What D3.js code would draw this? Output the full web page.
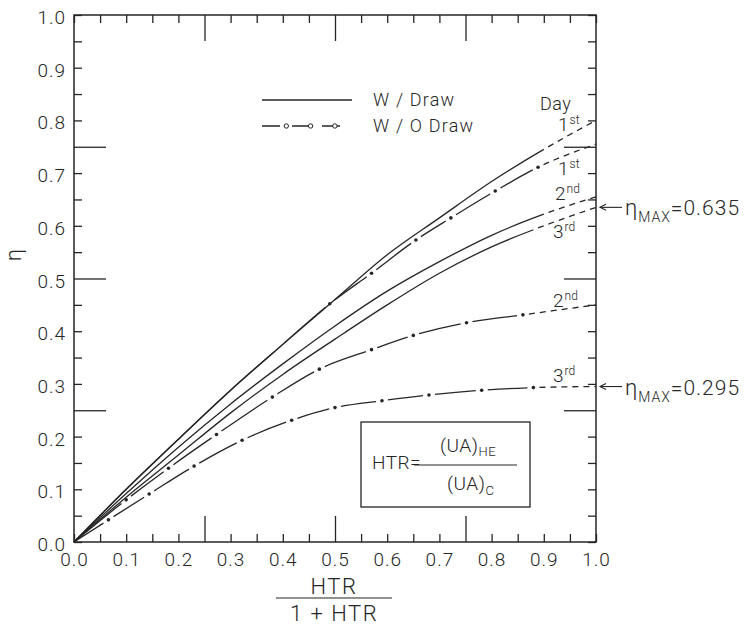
<!DOCTYPE html>
<html>
<head>
<meta charset="utf-8">
<script src="https://cdn.jsdelivr.net/npm/d3@7"></script>
<style>
  body { margin: 0; background: #fff; }
  text { font-family: Roboto, "Open Sans", Lato, sans-serif; font-weight: 300; fill: #262626; }
</style>
</head>
<body>
<svg id="chart" width="746" height="629"></svg>
<script>
// ---- data -------------------------------------------------------------
// HTR/(1+HTR) grid for the "with draw" curves
const htrGrid   = [0, 0.1, 0.2, 0.3, 0.4, 0.5, 0.6, 0.7, 0.8, 0.9, 1.0];
const drawDay1  = [0, 0.100, 0.195, 0.288, 0.375, 0.460, 0.545, 0.615, 0.684, 0.745, 0.800];
const drawDay2  = [0, 0.092, 0.180, 0.262, 0.338, 0.410, 0.476, 0.532, 0.582, 0.622, 0.655];
const drawDay3  = [0, 0.085, 0.165, 0.245, 0.318, 0.385, 0.450, 0.510, 0.560, 0.600, 0.635];
// abscissa beyond which each "with draw" curve is extrapolated (dashed)
const drawExtrapFrom = [0.90, 0.90, 0.88];

// "without draw" curves: points along each curve plus end value at 1.0
const noDrawDay1X = [0.10, 0.20, 0.30, 0.40, 0.49, 0.57, 0.655, 0.722, 0.807, 0.889];
const noDrawDay1  = [0.100, 0.195, 0.288, 0.375, 0.452, 0.510, 0.573, 0.615, 0.666, 0.711];
const noDrawDay2X = [0.10, 0.181, 0.273, 0.380, 0.47, 0.57, 0.65, 0.752, 0.860];
const noDrawDay2  = [0.080, 0.140, 0.204, 0.275, 0.328, 0.365, 0.392, 0.416, 0.431];
const noDrawDay3X = [0.066, 0.144, 0.230, 0.322, 0.417, 0.50, 0.59, 0.68, 0.781, 0.880];
const noDrawDay3  = [0.042, 0.091, 0.144, 0.193, 0.231, 0.255, 0.268, 0.279, 0.288, 0.293];
const noDrawEnd   = [0.755, 0.450, 0.295];
// first abscissa carrying a dot (day 1 runs together with the draw curve below it)
const noDrawDotFrom = [0.49, 0, 0];

const etaMax = [0.635, 0.295];

const tickLabels = [0, 0.1, 0.2, 0.3, 0.4, 0.5, 0.6, 0.7, 0.8, 0.9, 1.0];
const minorTicks = d3.range(0, 21).map(i => i * 0.05).filter(v => ![0.25, 0.5, 0.75].includes(+v.toFixed(2)));
const majorTicks = [0.25, 0.5, 0.75];

(function draw() {
  // ---- layout ---------------------------------------------------------
  const svg = d3.select("#chart");
  const pL = 74, pR = 596, pT = 15, pB = 542;
  const x = d3.scaleLinear().domain([0, 1]).range([pL, pR]);
  const y = d3.scaleLinear().domain([0, 1]).range([pB, pT]);
  const ink = "#262626";
  const fmt = d3.format(".1f");

  // frame
  svg.append("rect").attr("x", pL).attr("y", pT)
    .attr("width", pR - pL).attr("height", pB - pT)
    .attr("fill", "none").attr("stroke", ink).attr("stroke-width", 1.5);

  function styleAxis(g) {
    g.select(".domain").remove();
    g.selectAll("line").attr("stroke", ink).attr("stroke-width", 1.3);
  }
  // inward ticks on all four sides
  const tickSets = [[minorTicks, 8, 8], [majorTicks, 26, 32]];
  tickSets.forEach(([vals, lenX, lenY]) => {
    svg.append("g").attr("transform", `translate(0,${pB})`)
      .call(d3.axisBottom(x).tickValues(vals).tickSize(-lenX).tickFormat("")).call(styleAxis);
    svg.append("g").attr("transform", `translate(0,${pT})`)
      .call(d3.axisTop(x).tickValues(vals).tickSize(-lenX).tickFormat("")).call(styleAxis);
    svg.append("g").attr("transform", `translate(${pL},0)`)
      .call(d3.axisLeft(y).tickValues(vals).tickSize(-lenY).tickFormat("")).call(styleAxis);
    svg.append("g").attr("transform", `translate(${pR},0)`)
      .call(d3.axisRight(y).tickValues(vals).tickSize(-lenY).tickFormat("")).call(styleAxis);
  });

  // tick labels
  const xLab = svg.append("g").attr("transform", `translate(0,${pB})`)
    .call(d3.axisBottom(x).tickValues(tickLabels).tickSize(0).tickPadding(11).tickFormat(fmt));
  xLab.select(".domain").remove();
  xLab.selectAll("text").attr("font-size", 19).attr("letter-spacing", 1)
    .style("font-family", "Roboto, sans-serif").attr("fill", ink);

  const yLab = svg.append("g").attr("transform", `translate(${pL},0)`)
    .call(d3.axisLeft(y).tickValues(tickLabels).tickSize(0).tickPadding(8).tickFormat(fmt));
  yLab.select(".domain").remove();
  yLab.selectAll("text").attr("font-size", 19).attr("letter-spacing", 1)
    .attr("dy", "0.45em").style("font-family", "Roboto, sans-serif").attr("fill", ink);

  // axis titles
  svg.append("text").attr("transform", "translate(21,255) rotate(-90)")
    .attr("text-anchor", "middle").attr("font-size", 22).text("η");

  svg.append("text").attr("x", 334).attr("y", 594).attr("text-anchor", "middle")
    .attr("font-size", 22).attr("letter-spacing", 1.5).text("HTR");
  svg.append("line").attr("x1", 276).attr("x2", 392).attr("y1", 598).attr("y2", 598)
    .attr("stroke", ink).attr("stroke-width", 1.2);
  svg.append("text").attr("x", 334).attr("y", 621).attr("text-anchor", "middle")
    .attr("font-size", 22).attr("letter-spacing", 1.5).text("1 + HTR");

  // ---- curves ---------------------------------------------------------
  const line = d3.line().x(d => x(d[0])).y(d => y(d[1])).curve(d3.curveMonotoneX);

  // arc length along a path at which it reaches a given screen x
  function lengthAtX(node, px) {
    let lo = 0, hi = node.getTotalLength();
    for (let i = 0; i < 40; i++) {
      const mid = (lo + hi) / 2;
      if (node.getPointAtLength(mid).x < px) lo = mid; else hi = mid;
    }
    return (lo + hi) / 2;
  }
  function extrapDashes(arr, pos, total) {
    while (pos < total) { arr.push(6, 5); pos += 11; }
    return arr;
  }

  // with draw: solid, dashed extrapolation
  [drawDay1, drawDay2, drawDay3].forEach((vals, i) => {
    const pts = htrGrid.map((h, k) => [h, vals[k]]);
    const p = svg.append("path").attr("d", line(pts))
      .attr("fill", "none").attr("stroke", ink).attr("stroke-width", 1.3);
    const node = p.node();
    const total = node.getTotalLength();
    const split = lengthAtX(node, x(drawExtrapFrom[i]));
    p.attr("stroke-dasharray", extrapDashes([split, 5], split + 5, total).join(" "));
  });

  // without draw: long dash / dot, dashed extrapolation
  [[noDrawDay1X, noDrawDay1], [noDrawDay2X, noDrawDay2], [noDrawDay3X, noDrawDay3]].forEach(([xs, vals], i) => {
    const pts = [[0, 0], ...xs.map((h, k) => [h, vals[k]]), [1, noDrawEnd[i]]];
    const dots = pts.slice(1, -1).filter(d => d[0] >= noDrawDotFrom[i]);
    const p = svg.append("path").attr("d", line(pts))
      .attr("fill", "none").attr("stroke", ink).attr("stroke-width", 1.3);
    const node = p.node();
    const total = node.getTotalLength();
    const g = 6;
    const arr = [];
    let pos = 0;
    dots.forEach(d => {
      const L = lengthAtX(node, x(d[0]));
      arr.push(Math.max(L - g - pos, 1), 2 * g);
      pos = L + g;
    });
    p.attr("stroke-dasharray", extrapDashes(arr, pos, total).join(" "));
    svg.append("g").selectAll("circle").data(dots).join("circle")
      .attr("cx", d => x(d[0])).attr("cy", d => y(d[1])).attr("r", 1.8).attr("fill", ink);
  });

  // ---- legend ---------------------------------------------------------
  svg.append("line").attr("x1", 262).attr("x2", 352).attr("y1", 100).attr("y2", 100)
    .attr("stroke", ink).attr("stroke-width", 1.3);
  svg.append("text").attr("x", 373).attr("y", 106).attr("font-size", 18).attr("letter-spacing", 1.2).text("W / Draw");
  svg.append("line").attr("x1", 262).attr("x2", 352).attr("y1", 126).attr("y2", 126)
    .attr("stroke", ink).attr("stroke-width", 1.3).attr("stroke-dasharray", "18 6 0 6");
  [0.27, 0.54, 0.81].forEach(f => {
    svg.append("circle").attr("cx", 262 + 90 * f).attr("cy", 126).attr("r", 2.2)
      .attr("fill", "#fff").attr("stroke", ink).attr("stroke-width", 1);
  });
  svg.append("text").attr("x", 373).attr("y", 132).attr("font-size", 18).attr("letter-spacing", 1.2).text("W / O Draw");

  // ---- day labels -----------------------------------------------------
  svg.append("text").attr("x", 540).attr("y", 110).attr("font-size", 18).attr("letter-spacing", 0.5).text("Day");
  const dayLabels = [
    ["1", "st", 558, 131], ["1", "st", 558, 175], ["2", "nd", 555, 200],
    ["3", "rd", 553, 238], ["2", "nd", 553, 307], ["3", "rd", 553, 382]
  ];
  dayLabels.forEach(([n, sup, lx, ly]) => {
    const t = svg.append("text").attr("x", lx).attr("y", ly).attr("font-size", 19);
    t.append("tspan").text(n);
    t.append("tspan").attr("font-size", 12).attr("dy", -7).attr("dx", 1).text(sup);
  });

  // ---- eta max annotations --------------------------------------------
  etaMax.forEach(v => {
    const yy = y(v);
    svg.append("line").attr("x1", pR + 4).attr("x2", pR + 26).attr("y1", yy).attr("y2", yy)
      .attr("stroke", ink).attr("stroke-width", 1.1);
    svg.append("path").attr("d", `M${pR + 10},${yy - 3}L${pR + 4},${yy}L${pR + 10},${yy + 3}`)
      .attr("fill", "none").attr("stroke", ink).attr("stroke-width", 1.1);
    const t = svg.append("text").attr("x", pR + 29).attr("y", yy + 8).attr("font-size", 22);
    t.append("tspan").text("η");
    t.append("tspan").attr("font-size", 14).attr("dy", 7).attr("dx", 1).attr("letter-spacing", 1).text("MAX");
    t.append("tspan").attr("font-size", 21).attr("dy", -7).attr("letter-spacing", 1).text("=" + d3.format(".3f")(v));
  });

  // ---- HTR definition box ---------------------------------------------
  svg.append("rect").attr("x", 361).attr("y", 422).attr("width", 169).attr("height", 85)
    .attr("fill", "#fff").attr("stroke", ink).attr("stroke-width", 1.3);
  svg.append("text").attr("x", 372).attr("y", 469).attr("font-size", 19).attr("letter-spacing", 0.5).text("HTR=");
  svg.append("line").attr("x1", 414).attr("x2", 517).attr("y1", 465).attr("y2", 465)
    .attr("stroke", ink).attr("stroke-width", 1.1);
  const num = svg.append("text").attr("x", 440).attr("y", 452).attr("font-size", 19).attr("letter-spacing", 0.5);
  num.append("tspan").text("(UA)");
  num.append("tspan").attr("font-size", 13).attr("dy", 4).text("HE");
  const den = svg.append("text").attr("x", 447).attr("y", 490).attr("font-size", 19).attr("letter-spacing", 0.5);
  den.append("tspan").text("(UA)");
  den.append("tspan").attr("font-size", 13).attr("dy", 5).text("C");
})();
</script>
</body>
</html>
